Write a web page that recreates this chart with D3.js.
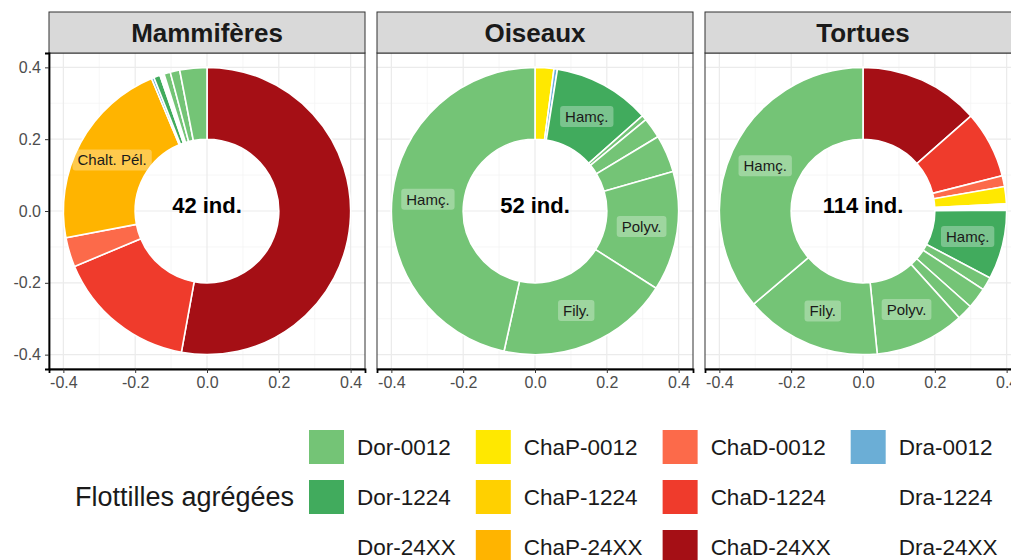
<!DOCTYPE html>
<html lang="fr">
<head>
<meta charset="UTF-8">
<title>Flottilles agrégées</title>
<script src="https://cdn.jsdelivr.net/npm/d3@7"></script>
<style>
  body { margin: 0; background: #fff; }
  svg { display: block; font-family: "Liberation Sans", Arial, sans-serif; }
</style>
</head>
<body>
<div id="chart"></div>
<script>
// facets
var panels = ["Mammifères", "Oiseaux", "Tortues"];
var totals = [42, 52, 114];

// fleets, in legend order (filled column by column)
var fleets = ["Dor-0012", "Dor-1224", "Dor-24XX",
              "ChaP-0012", "ChaP-1224", "ChaP-24XX",
              "ChaD-0012", "ChaD-1224", "ChaD-24XX",
              "Dra-0012", "Dra-1224", "Dra-24XX"];
var fleetColors = ["#74C476", "#41AB5D", "#FFFFFF",
                   "#FFE800", "#FFD000", "#FFB400",
                   "#FC6A4A", "#EF3B2C", "#A50F15",
                   "#6BAED6", "#FFFFFF", "#FFFFFF"];

// slices, clockwise from 12 o'clock
var mamFleet = ["ChaD-24XX", "ChaD-1224", "ChaD-0012", "ChaP-24XX", "Dra-0012", "Dor-1224", "Dra-1224", "Dor-0012", "Dor-0012", "Dor-0012"];
var mamValue = [22.2, 6.65, 1.4, 9.1, 0.12, 0.3, 0.2, 0.3, 0.45, 1.28];
var mamLabel = ["", "", "", "Chalt. Pél.", "", "", "", "", "", ""];

var oisFleet = ["ChaP-0012", "Dra-0012", "Dor-1224", "Dor-0012", "Dor-0012", "Dor-0012", "Dor-0012", "Dor-0012", "Dor-0012"];
var oisValue = [1.1, 0.2, 5.7, 0.3, 1.2, 2.2, 7.0, 10.1, 24.2];
var oisLabel = ["", "", "Hamç.", "", "", "", "Polyv.", "Fily.", "Hamç."];

var torFleet = ["ChaD-24XX", "ChaD-1224", "ChaD-0012", "ChaP-0012", "Dra-1224", "Dor-1224", "Dor-0012", "Dor-0012", "Dor-0012", "Dor-0012", "Dor-0012", "Dor-0012"];
var torValue = [15.4, 8.6, 1.4, 2.2, 0.8, 8.9, 1.7, 2.7, 2.0, 11.5, 17.5, 41.3];
var torLabel = ["", "", "", "", "", "Hamç.", "", "", "", "Polyv.", "Fily.", "Hamç."];

var majorTicks = [-0.4, -0.2, 0, 0.2, 0.4];
var minorTicks = [-0.3, -0.1, 0.1, 0.3];

var slices = [
  { fleet: mamFleet, value: mamValue, label: mamLabel },
  { fleet: oisFleet, value: oisValue, label: oisLabel },
  { fleet: torFleet, value: torValue, label: torLabel }
];

var width = 1011, height = 560;
var panelLeft = 49, panelTop = 53, panelSize = 316, panelGap = 12, stripH = 41;

var color = d3.scaleOrdinal().domain(fleets).range(fleetColors);

var x = d3.scaleLinear().domain([-0.44, 0.44]).range([0, panelSize]);
var y = d3.scaleLinear().domain([-0.44, 0.44]).range([panelSize, 0]);

var fmt = function (d) { return d3.format(".1f")(d).replace("\u2212", "-"); };

var svg = d3.select("#chart")
  .append("svg")
  .attr("width", width)
  .attr("height", height);

var arc = d3.arc()
  .innerRadius(x(0.2) - x(0))
  .outerRadius(x(0.4) - x(0));

var pie = d3.pie().sort(null).value(function (d) { return d.v; });

panels.forEach(function (name, i) {
  var g = svg.append("g")
    .attr("transform", "translate(" + (panelLeft + i * (panelSize + panelGap)) + "," + panelTop + ")");

  // background + grid
  g.append("rect").attr("width", panelSize).attr("height", panelSize).attr("fill", "#fff");

  minorTicks.forEach(function (t) {
    g.append("line").attr("x1", x(t)).attr("x2", x(t)).attr("y1", 0).attr("y2", panelSize)
      .attr("stroke", "#F3F3F3").attr("stroke-width", 0.7);
    g.append("line").attr("y1", y(t)).attr("y2", y(t)).attr("x1", 0).attr("x2", panelSize)
      .attr("stroke", "#F3F3F3").attr("stroke-width", 0.7);
  });
  majorTicks.forEach(function (t) {
    g.append("line").attr("x1", x(t)).attr("x2", x(t)).attr("y1", 0).attr("y2", panelSize)
      .attr("stroke", "#EBEBEB").attr("stroke-width", 1.2);
    g.append("line").attr("y1", y(t)).attr("y2", y(t)).attr("x1", 0).attr("x2", panelSize)
      .attr("stroke", "#EBEBEB").attr("stroke-width", 1.2);
  });

  // donut
  var s = slices[i];
  var rows = s.value.map(function (v, k) { return { v: v, fleet: s.fleet[k], label: s.label[k] }; });
  var arcs = pie(rows);

  var donut = g.append("g").attr("transform", "translate(" + x(0) + "," + y(0) + ")");

  donut.selectAll("path")
    .data(arcs)
    .join("path")
    .attr("d", arc)
    .attr("fill", function (d) { return color(d.data.fleet); })
    .attr("stroke", "#fff")
    .attr("stroke-width", 1.6);

  // slice labels
  var lab = donut.selectAll("g.lab")
    .data(arcs.filter(function (d) { return d.data.label; }))
    .join("g")
    .attr("class", "lab")
    .attr("transform", function (d) { return "translate(" + arc.centroid(d) + ")"; });

  lab.append("rect").attr("class", "bg");
  lab.append("text")
    .attr("text-anchor", "middle")
    .attr("dominant-baseline", "central")
    .attr("font-size", 15)
    .attr("fill", "#1a1a1a")
    .text(function (d) { return d.data.label; });
  lab.each(function () {
    var t = d3.select(this).select("text").node().getBBox();
    d3.select(this).select("rect.bg")
      .attr("x", t.x - 5).attr("y", t.y - 2)
      .attr("width", t.width + 10).attr("height", t.height + 4)
      .attr("rx", 3)
      .attr("fill", "#fff").attr("fill-opacity", 0.3);
  });

  // centre count
  donut.append("text")
    .attr("y", -6)
    .attr("text-anchor", "middle")
    .attr("dominant-baseline", "central")
    .attr("font-size", 22)
    .attr("font-weight", "bold")
    .attr("fill", "#000")
    .text(totals[i] + " ind.");

  // panel border
  g.append("rect").attr("width", panelSize).attr("height", panelSize)
    .attr("fill", "none").attr("stroke", "#333").attr("stroke-width", 1);

  // strip
  g.append("rect")
    .attr("y", -stripH).attr("width", panelSize).attr("height", stripH)
    .attr("fill", "#D9D9D9").attr("stroke", "#333").attr("stroke-width", 1);
  g.append("text")
    .attr("x", panelSize / 2).attr("y", -stripH / 2)
    .attr("text-anchor", "middle").attr("dominant-baseline", "central")
    .attr("font-size", 26).attr("font-weight", "bold").attr("fill", "#1a1a1a")
    .text(name);

  // x axis
  var xa = g.append("g")
    .attr("transform", "translate(0," + panelSize + ")")
    .call(d3.axisBottom(x).tickValues(majorTicks).tickFormat(fmt).tickSizeOuter(0).tickSize(4).tickPadding(4));
  xa.select(".domain").attr("stroke", "#000").attr("stroke-width", 1.8);
  xa.selectAll(".tick line").attr("stroke", "#333");
  xa.selectAll("text").attr("fill", "#4D4D4D").attr("font-size", 16).attr("font-family", null);

  // y axis only on the first facet
  if (i === 0) {
    var ya = g.append("g")
      .call(d3.axisLeft(y).tickValues(majorTicks).tickFormat(fmt).tickSizeOuter(0).tickSize(4).tickPadding(4));
    ya.select(".domain").attr("stroke", "#000").attr("stroke-width", 1.8);
    ya.selectAll(".tick line").attr("stroke", "#333");
    ya.selectAll("text").attr("fill", "#4D4D4D").attr("font-size", 16).attr("font-family", null);
  }
});

// legend
var legend = svg.append("g");
legend.append("text")
  .attr("x", 75).attr("y", 497)
  .attr("dominant-baseline", "central")
  .attr("font-size", 27).attr("fill", "#1a1a1a")
  .text("Flottilles agrégées");

var keyW = 35, keyH = 34, rowStep = 50, keyTop = 430;
var colX = 309;
for (var c = 0; c < 4; c++) {
  var maxW = 0;
  for (var r = 0; r < 3; r++) {
    var k = c * 3 + r;
    var yy = keyTop + r * rowStep;
    legend.append("rect")
      .attr("x", colX).attr("y", yy)
      .attr("width", keyW).attr("height", keyH)
      .attr("fill", color(fleets[k]));
    var t = legend.append("text")
      .attr("x", colX + keyW + 13).attr("y", yy + keyH / 2)
      .attr("dominant-baseline", "central")
      .attr("font-size", 22.5).attr("fill", "#1a1a1a")
      .text(fleets[k]);
    maxW = Math.max(maxW, t.node().getComputedTextLength());
  }
  colX += keyW + 13 + maxW + 20;
}
</script>
</body>
</html>
